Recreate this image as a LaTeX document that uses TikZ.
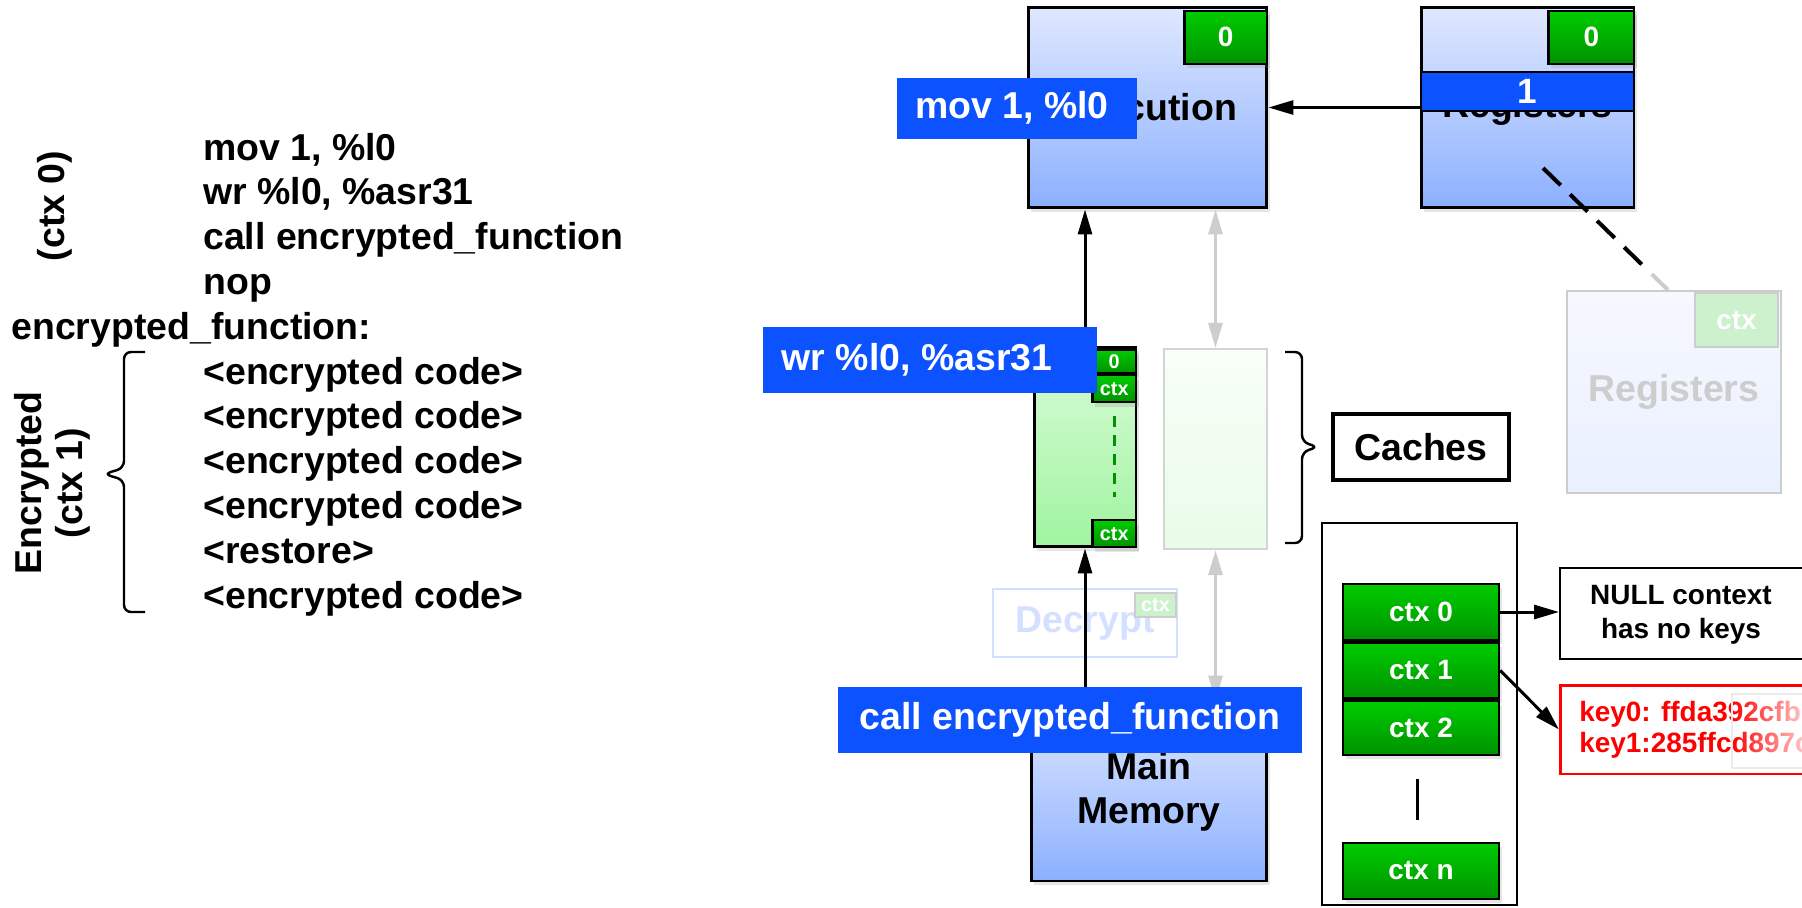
\documentclass[tikz,border=0pt]{standalone}
\usepackage{fontspec}
\setmainfont{Liberation Sans}
\usetikzlibrary{positioning,arrows.meta,calc,shadows,fadings}
\definecolor{bluetop}{RGB}{223,232,255}
\definecolor{bluebot}{RGB}{140,176,255}
\definecolor{greentop}{RGB}{0,204,0}
\definecolor{greenbot}{RGB}{0,146,0}
\definecolor{cachetop}{RGB}{216,251,216}
\definecolor{cachebot}{RGB}{160,244,160}
\definecolor{tagblue}{RGB}{13,82,255}
\definecolor{ghostgray}{RGB}{205,205,205}
\definecolor{ghostblue}{RGB}{212,224,255}
\definecolor{ghostgreen}{RGB}{205,240,205}
\definecolor{ghosttop}{RGB}{246,248,255}
\definecolor{ghostbot}{RGB}{233,240,255}
\definecolor{paletop}{RGB}{248,255,248}
\definecolor{palebot}{RGB}{233,251,233}
\newcommand{\fbig}{\fontsize{21.3}{25}\selectfont\bfseries}
\newcommand{\fmid}{\fontsize{15.9}{17.6}\selectfont\bfseries}
\newcommand{\fsml}{\fontsize{11.3}{13}\selectfont\bfseries}

\begin{document}
\begin{tikzpicture}[x=0.02cm, y=-0.02cm, font=\fbig,
  box/.style={draw, line width=1.7pt, inner sep=0pt, top color=bluetop, bottom color=bluebot,
    drop shadow={opacity=0.2, shadow xshift=1.5pt, shadow yshift=-2.5pt}},
  ctxcell/.style={draw, line width=1.4pt, inner sep=0pt, top color=greentop, bottom color=greenbot, text=white,
    drop shadow={opacity=0.2, shadow xshift=1.5pt, shadow yshift=-2.5pt}},
  tag/.style={fill=tagblue, text=white, inner sep=0pt},
  ghost/.style={draw=ghostgray, line width=1.4pt, inner sep=0pt},
  asm/.style={anchor=base west, inner sep=0pt},
  arr/.style={line width=1.7pt, arrows={-Triangle[length=0.5cm, width=0.28cm]}},
  garr/.style={line width=1.7pt, draw=ghostgray, arrows={Triangle[length=0.5cm, width=0.28cm]-Triangle[length=0.5cm, width=0.28cm]}},
  curly/.style={line width=1.4pt, rounded corners=4pt}]
  \clip (0,0) rectangle (1802,907);

  % code listing
  \foreach \txt [count=\i from 0] in {{mov 1, \%l0}, {wr \%l0, \%asr31}, {call encrypted\_function}, nop}
    \node[asm] (c\i) at (203,160+44.8*\i) {\txt};
  \node[asm] (fn) at (11,160+44.8*4) {encrypted\_function:};
  \foreach \txt [count=\i from 5] in {<encrypted code>, <encrypted code>, <encrypted code>, <encrypted code>, <restore>, <encrypted code>}
    \node[asm] (c\i) at (203,160+44.8*\i) {\txt};
  \node[rotate=90] (plainlbl) at (55,206) {(ctx 0)};
  \node[rotate=90, align=center] (enclbl) at (52,483) {Encrypted\\[-1.6pt](ctx 1)};
  \draw[curly] (145,352) -- (124,352) -- (124,468) -- (104,474) -- (124,480) -- (124,612) -- (145,612);

  % execution and registers
  \node[box, minimum width=4.78cm, minimum height=4.02cm] (exec) at (1147.5,107.5) {Execution};
  \node[box, minimum width=4.26cm, minimum height=4.02cm] (regs) at (1527.5,107.5) {Registers};
  \node[ctxcell, minimum width=1.66cm, minimum height=1.06cm, anchor=north east, font=\fmid] (exec0) at ($(exec.north east)+(0,4)$) {0};
  \node[ctxcell, minimum width=1.72cm, minimum height=1.06cm, anchor=north east, font=\fmid] (regs0) at ($(regs.north east)+(0,4)$) {0};
  \node[tag, draw=black, line width=1.4pt, minimum width=4.26cm, minimum height=0.78cm,
    font={\fontsize{20}{22}\selectfont\bfseries}] (one) at (1527.5,91.5) {1};
  \draw[arr] (regs.west) -- (exec.east);

  % shadow register file
  \coordinate (dstart) at (1543,168);
  \coordinate (dend) at (1668,290);
  \draw[line width=2.3pt, dash pattern=on 14pt off 7.5pt] (dstart) -- ($(dstart)!0.8!(dend)$);
  \draw[line width=2.3pt, ghostgray] ($(dstart)!0.87!(dend)$) -- (dend);
  \node[ghost, top color=ghosttop, bottom color=ghostbot, text=ghostgray, minimum width=4.28cm, minimum height=4.04cm] (ghostregs) at (1674,392) {Registers};
  \node[ghost, fill=ghostgreen, text=white, minimum width=1.66cm, minimum height=1.08cm, anchor=north east, font=\fmid] (ghostctx) at ($(ghostregs.north east)+(-3,2)$) {ctx};

  % caches
  \node[box, top color=cachetop, bottom color=cachebot, minimum width=2.04cm, minimum height=4cm] (cache) at (1085,447) {};
  \node[ctxcell, minimum width=0.88cm, minimum height=0.46cm, anchor=north east, font=\fsml] (cache0) at ($(cache.north east)+(0,3)$) {0};
  \node[ctxcell, minimum width=0.88cm, minimum height=0.54cm, below=0pt of cache0, font=\fsml] (cachectx) {ctx};
  \node[ctxcell, minimum width=0.88cm, minimum height=0.54cm, anchor=south east, font=\fsml] (cachectxb) at (cache.south east) {ctx};
  \draw[greenbot, line width=1.4pt, dash pattern=on 6.2pt off 4.5pt] ($(cachectx.south)+(0,13)$) -- ($(cachectxb.north)+(0,-22)$);
  \node[ghost, draw=ghostgray!85, top color=paletop, bottom color=palebot, minimum width=2.06cm, minimum height=4cm] (ghostcache) at (1215.5,449) {};
  \draw[curly] (1285,352) -- (1302,352) -- (1302,442) -- (1318,447) -- (1302,452) -- (1302,543) -- (1285,543);
  \node[draw, line width=2.4pt, minimum width=3.52cm, minimum height=1.32cm, inner sep=0pt] (caches) at (1421,447) {Caches};

  % decrypt and memory
  \node[draw=ghostblue, line width=1.4pt, minimum width=3.68cm, minimum height=1.36cm, text=ghostblue, inner sep=0pt] (decrypt) at (1085,623) {Decrypt};
  \node[ghost, fill=ghostgreen, text=white, minimum width=0.82cm, minimum height=0.48cm, anchor=north east, font=\fsml] (decctx) at ($(decrypt.north east)+(-1,4)$) {ctx};
  \node[box, minimum width=4.72cm, minimum height=3.58cm, align=center] (mem) at (1149,791.5) {Main\\Memory};

  \draw[arr] (cache.north) -- (cache.north |- exec.south);
  \draw[arr] (mem.north -| cache.south) -- (cache.south);
  \draw[garr] (ghostcache.north) -- (ghostcache.north |- exec.south);
  \draw[garr] (mem.north -| ghostcache.south) -- (ghostcache.south);

  % instruction tags
  \node[tag, minimum width=4.8cm, minimum height=1.22cm] (movtag) at (1017,108) {\hspace*{-0.2cm}mov 1, \%l0};
  \node[tag, minimum width=6.68cm, minimum height=1.32cm] (wrtag) at (930,360) {\hspace*{-0.52cm}wr \%l0, \%asr31};
  \node[tag, minimum width=9.28cm, minimum height=1.32cm] (calltag) at (1070,720) {call encrypted\_function};

  % context table
  \node[draw, line width=1.1pt, minimum width=3.9cm, minimum height=7.64cm, inner sep=0pt] (table) at (1419.5,714) {};
  \node[ctxcell, minimum width=3.12cm, minimum height=1.12cm, font=\fmid] (ctx0) at (1421,612) {ctx 0};
  \node[ctxcell, minimum width=3.12cm, minimum height=1.12cm, font=\fmid, below=0pt of ctx0] (ctx1) {ctx 1};
  \node[ctxcell, minimum width=3.12cm, minimum height=1.08cm, font=\fmid, below=0pt of ctx1] (ctx2) {ctx 2};
  \node[ctxcell, minimum width=3.12cm, minimum height=1.12cm, font=\fmid] (ctxn) at (1421,871) {ctx n};
  \draw[line width=1.7pt] ($(ctx2.south)+(-4,23)$) -- ($(ctxn.north)+(-4,-22)$);

  % keys
  \node[draw, line width=1.4pt, minimum width=5.4cm, minimum height=1.82cm, anchor=west, inner sep=0pt] (null) at (1559,613.5) {};
  \node[font=\fmid, align=center] (nulltxt) at (1681,615) {NULL context\\[1.6pt]has no keys};
  \node[draw=red, line width=1.7pt, minimum width=5.4cm, minimum height=1.78cm, anchor=west, inner sep=0pt] (key) at (1559,729.5) {};
  \node[font=\fmid, text=red, align=left, anchor=west, inner sep=0pt] (keytxt) at (1579,730) {key0: ffda392cfbb\\key1:285ffcd897c};
  \fill[white, path fading=west, fill opacity=0.85] (1732,694) rectangle (1810,768);
  \draw[black!8, line width=0.8pt] (1810,694) -- (1732,694) -- (1732,768) -- (1810,768);
  \draw[arr] (ctx0.east) -- (ctx0.east -| null.west);
  \draw[arr] (ctx1.east) -- (key.west);
\end{tikzpicture}
\end{document}
